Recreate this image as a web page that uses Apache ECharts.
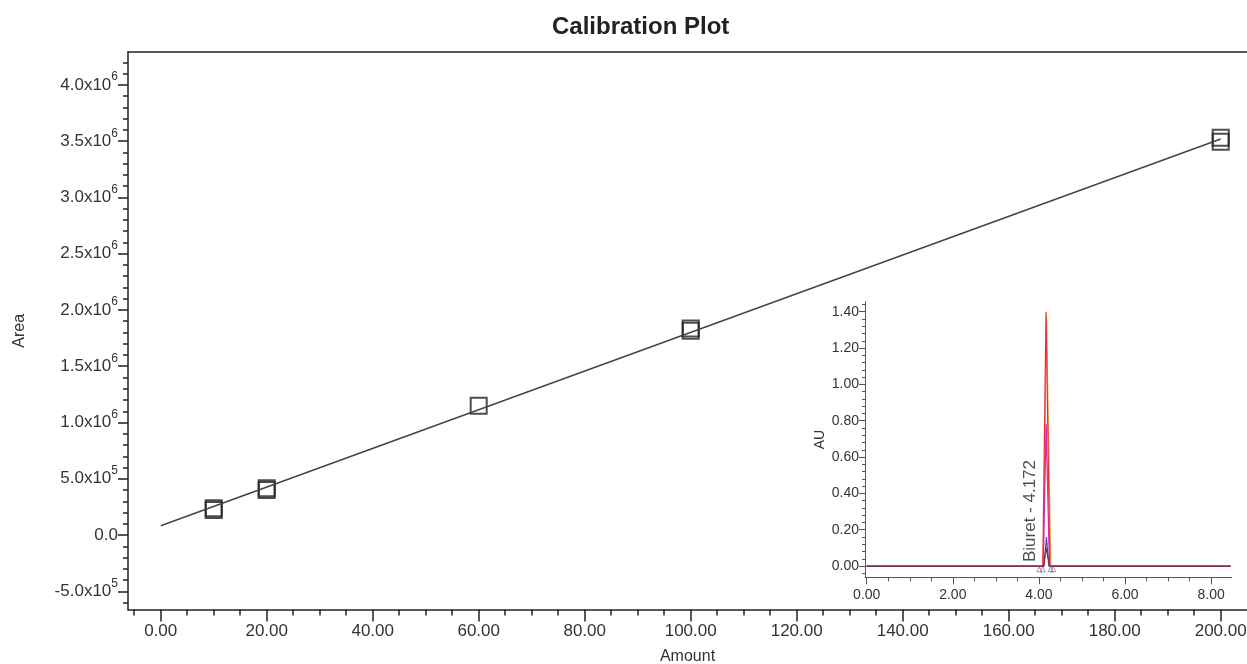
<!DOCTYPE html>
<html><head><meta charset="utf-8">
<script src="https://cdn.jsdelivr.net/npm/echarts@6/dist/echarts.min.js"></script>
<style>html,body{margin:0;padding:0;background:#fff}#c{width:1247px;height:664px}</style>
</head><body><div id="c"></div>
<script>
// ---- main calibration data ----
const amounts = [10, 10, 20, 20, 60, 100, 100, 200, 200];
const areas = [238000, 222000, 415000, 400000, 1150000, 1835000, 1815000, 3530000, 3495000];
const fitAmounts = [0, 200];
const fitAreas = [83000, 3520000];
const xTicks = [0, 20, 40, 60, 80, 100, 120, 140, 160, 180, 200];
const yTicks = [-500000, 0, 500000, 1000000, 1500000, 2000000, 2500000, 3000000, 3500000, 4000000];

// ---- inset chromatogram data ----
const insetXTicks = [0, 2, 4, 6, 8];
const insetYTicks = [0, 0.2, 0.4, 0.6, 0.8, 1.0, 1.2, 1.4];
const orangeT = [0, 4.10, 4.175, 4.275, 8.45];
const orangeAU = [0.002, 0.002, 1.38, 0.002, 0.002];
const magentaT = [0, 4.10, 4.168, 4.245, 8.45];
const magentaAU = [0.001, 0.001, 0.78, 0.001, 0.001];
const blueT = [0, 4.12, 4.175, 4.23, 8.45];
const blueAU = [0, 0, 0.16, 0, 0];
const brownT = [0, 4.11, 4.165, 4.25, 8.45];
const brownAU = [0, 0, 0.10, 0, 0];
const redT = [0, 4.09, 4.165, 4.255, 8.45];
const redAU = [0.003, 0.003, 1.40, 0.003, 0.003];
const intMarkT = [4.01, 4.09, 4.27, 4.33];
const intMarkAU = [-0.018, -0.018, -0.018, -0.018];
const peakName = 'Biuret - 4.172';
const peakT = 4.172;
const peakLabelAU = 0.022;

const FF = '"Liberation Sans", Arial, sans-serif';
const zip = (a, b) => a.map((v, i) => [v, b[i]]);

function sci(v) {
  if (v === 0) return '{b|0.0}';
  const s = v < 0 ? '-' : '';
  const a = Math.abs(v);
  const e = Math.floor(Math.log10(a) + 1e-9);
  const m = (a / Math.pow(10, e)).toFixed(1);
  return '{b|' + s + m + 'x10}{s|' + e + '}';
}

const chart = echarts.init(document.getElementById('c'), null, {renderer: 'canvas'});
const option = {
  animation: false,
  backgroundColor: '#fff',
  title: {
    text: 'Calibration Plot', left: 552, top: 15, padding: 0,
    textStyle: {fontSize: 24, fontWeight: 'bold', color: '#222', fontFamily: FF}
  },
  grid: [
    {left: 128, top: 52, right: 0, bottom: 54.5, outerBoundsMode: 'none', containLabel: false},
    {left: 865, top: 301.7, right: 15.3, bottom: 86.7, outerBoundsMode: 'none', containLabel: false}
  ],
  xAxis: [
    {
      type: 'value', gridIndex: 0, min: -6.17, max: 204.96, minInterval: 20, maxInterval: 20,
      name: 'Amount', nameLocation: 'middle', nameGap: 39,
      nameTextStyle: {fontSize: 16, color: '#333', fontFamily: FF},
      axisLine: {show: true, onZero: false, lineStyle: {color: '#222', width: 1.5}},
      axisTick: {show: true, length: 12, lineStyle: {color: '#222', width: 1.5}, customValues: xTicks},
      minorTick: {show: true, splitNumber: 4, length: 6, lineStyle: {color: '#222', width: 1.5}},
      axisLabel: {fontSize: 17, color: '#333', fontFamily: FF, margin: 13, customValues: xTicks,
        formatter: v => v.toFixed(2)},
      splitLine: {show: false}
    },
    {
      type: 'value', gridIndex: 1, min: -0.04, max: 8.478, minInterval: 2, maxInterval: 2,
      axisLine: {show: true, onZero: false, lineStyle: {color: '#555', width: 1}},
      axisTick: {show: true, length: 7, lineStyle: {color: '#555'}, customValues: insetXTicks},
      minorTick: {show: true, splitNumber: 4, length: 4, lineStyle: {color: '#555'}},
      axisLabel: {fontSize: 14, color: '#333', fontFamily: FF, margin: 11, customValues: insetXTicks,
        formatter: v => v.toFixed(2)},
      splitLine: {show: false}
    },
    {
      type: 'value', gridIndex: 0, position: 'top', min: -6.17, max: 204.96,
      axisLine: {show: true, onZero: false, lineStyle: {color: '#222', width: 1.5}},
      axisTick: {show: false}, axisLabel: {show: false}, splitLine: {show: false}
    }
  ],
  yAxis: [
    {
      type: 'value', gridIndex: 0, min: -662000, max: 4293000, minInterval: 500000, maxInterval: 500000,
      name: 'Area', nameLocation: 'middle', nameGap: 100,
      nameTextStyle: {fontSize: 16, color: '#333', fontFamily: FF},
      axisLine: {show: true, onZero: false, lineStyle: {color: '#222', width: 1.5}},
      axisTick: {show: true, length: 10, lineStyle: {color: '#222', width: 1.5}, customValues: yTicks},
      minorTick: {show: true, splitNumber: 5, length: 5, lineStyle: {color: '#222', width: 1.5}},
      axisLabel: {
        margin: 10, customValues: yTicks, formatter: sci,
        rich: {
          b: {fontSize: 17, lineHeight: 28, color: '#333', fontFamily: FF},
          s: {fontSize: 12, lineHeight: 12, verticalAlign: 'top', color: '#333', fontFamily: FF}
        }
      },
      splitLine: {show: false}
    },
    {
      type: 'value', gridIndex: 1, min: -0.062, max: 1.455, minInterval: 0.2, maxInterval: 0.2,
      name: 'AU', nameLocation: 'middle', nameGap: 38,
      nameTextStyle: {fontSize: 14, color: '#333', fontFamily: FF},
      axisLine: {show: true, onZero: false, lineStyle: {color: '#555', width: 1}},
      axisTick: {show: true, length: 6, lineStyle: {color: '#555'}, customValues: insetYTicks},
      minorTick: {show: true, splitNumber: 5, length: 3, lineStyle: {color: '#555'}},
      axisLabel: {fontSize: 14, color: '#333', fontFamily: FF, margin: 6, customValues: insetYTicks,
        formatter: v => v.toFixed(2)},
      splitLine: {show: false}
    }
  ],
  series: [
    {
      type: 'line', xAxisIndex: 0, yAxisIndex: 0, data: zip(fitAmounts, fitAreas),
      showSymbol: false, symbol: 'none', lineStyle: {color: '#444', width: 1.5}, silent: true
    },
    {
      type: 'scatter', xAxisIndex: 0, yAxisIndex: 0, data: zip(amounts, areas),
      symbol: 'rect', symbolSize: 16,
      itemStyle: {color: 'rgba(0,0,0,0)', borderColor: '#222', borderWidth: 2}, silent: true
    },
    {type: 'line', xAxisIndex: 1, yAxisIndex: 1, data: zip(orangeT, orangeAU), symbol: 'none', lineStyle: {color: '#f0a030', width: 1.2}, silent: true},
    {type: 'line', xAxisIndex: 1, yAxisIndex: 1, data: zip(magentaT, magentaAU), symbol: 'none', lineStyle: {color: '#d628c8', width: 1.3}, silent: true},
    {type: 'line', xAxisIndex: 1, yAxisIndex: 1, data: zip(blueT, blueAU), symbol: 'none', lineStyle: {color: '#4a3fd0', width: 1.2}, silent: true},
    {type: 'line', xAxisIndex: 1, yAxisIndex: 1, data: zip(brownT, brownAU), symbol: 'none', lineStyle: {color: '#8a2a2a', width: 1.2}, silent: true},
    {type: 'line', xAxisIndex: 1, yAxisIndex: 1, data: zip(redT, redAU), symbol: 'none', lineStyle: {color: '#e8303a', width: 1.2}, silent: true},
    {
      type: 'scatter', xAxisIndex: 1, yAxisIndex: 1, data: zip(intMarkT, intMarkAU),
      symbol: 'triangle', symbolSize: 5,
      itemStyle: {color: 'rgba(0,0,0,0)', borderColor: '#666', borderWidth: 0.8}, silent: true
    },
    {
      type: 'scatter', xAxisIndex: 1, yAxisIndex: 1, data: [[peakT, peakLabelAU]],
      symbolSize: 0, silent: true,
      label: {show: true, formatter: peakName, rotate: 90, position: [-16, 0], align: 'left', verticalAlign: 'middle',
        fontSize: 17, color: '#222', fontFamily: FF}
    }
  ]
};
chart.setOption(option);
</script>
</body></html>
